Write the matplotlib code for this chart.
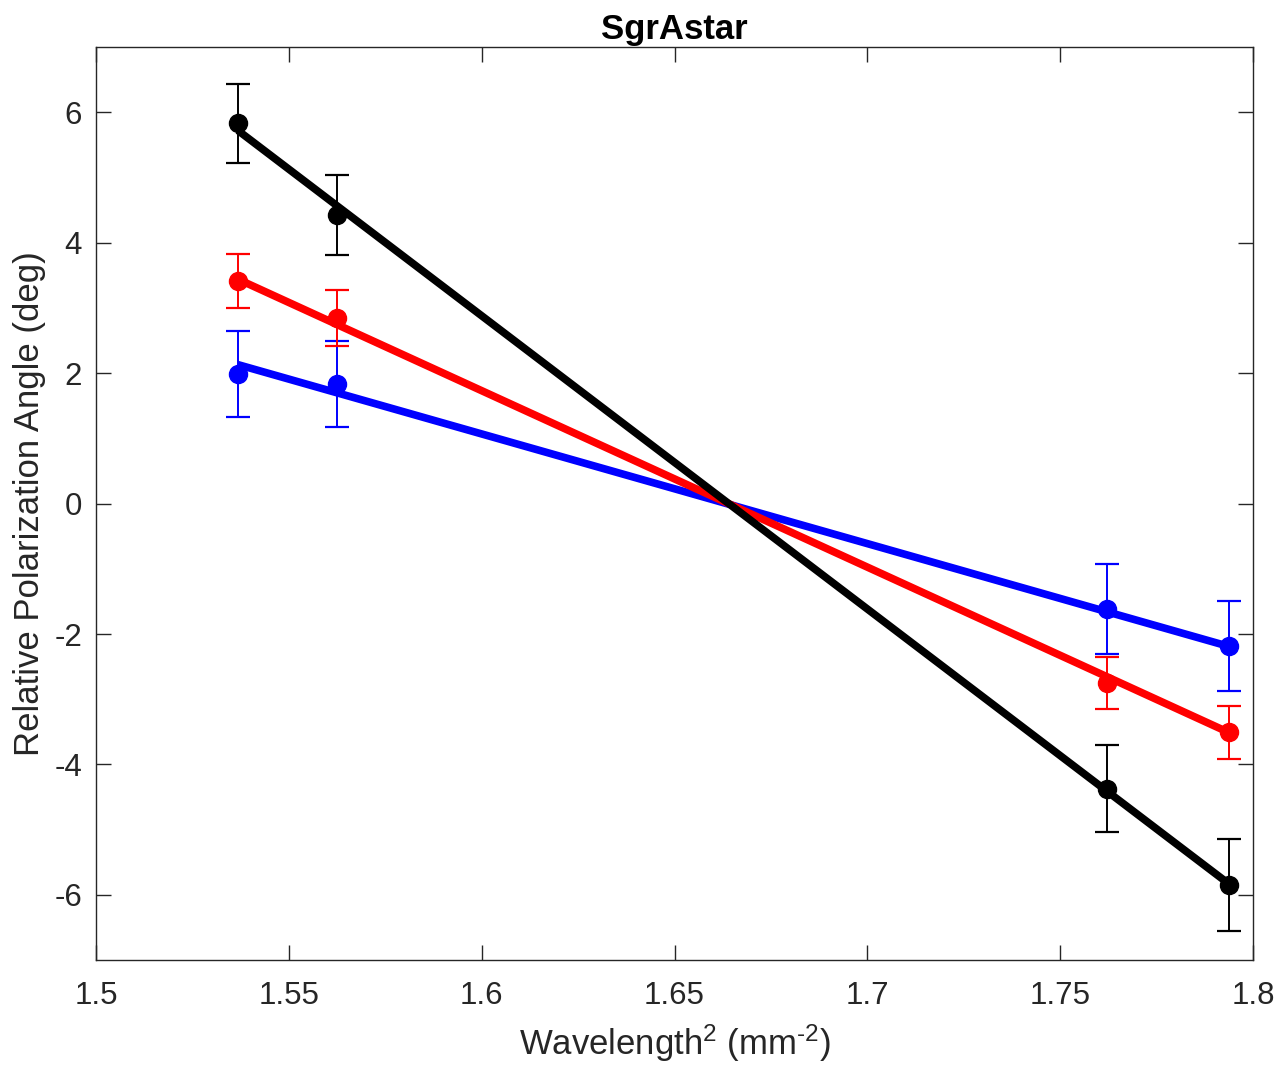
import matplotlib
matplotlib.use("Agg")
import matplotlib.pyplot as plt
import numpy as np

plt.rcParams['font.family'] = ['Liberation Sans', 'DejaVu Sans']
plt.rcParams['mathtext.default'] = 'regular'
plt.rcParams['axes.unicode_minus'] = False

# wavelength^2 of the four bands
wl2 = [1.5368, 1.5625, 1.7621, 1.7937]

# measured angles and 1-sigma errors
black_pa = [5.83, 4.42, -4.37, -5.85]
black_err = [0.61, 0.61, 0.67, 0.70]
red_pa = [3.41, 2.85, -2.75, -3.51]
red_err = [0.41, 0.43, 0.40, 0.40]
blue_pa = [1.98, 1.84, -1.61, -2.19]
blue_err = [0.66, 0.66, 0.69, 0.69]

# fitted lines (values at first and last wavelength)
fit_x = [1.5368, 1.7937]
black_fit = [5.72, -5.83]
red_fit = [3.44, -3.51]
blue_fit = [2.13, -2.19]

series = [
    (blue_pa, blue_err, blue_fit, 'blue'),
    (red_pa, red_err, red_fit, 'red'),
    (black_pa, black_err, black_fit, 'black'),
]

fig = plt.figure(figsize=(12.8, 10.68), dpi=100)
ax = fig.add_axes([0.075, 0.101, 0.904, 0.855])

for pa, err, fit, col in series:
    ax.errorbar(wl2, pa, yerr=err, fmt='o', color=col, ms=13,
                elinewidth=1.4, capsize=8.5, capthick=1.6, zorder=2)
for pa, err, fit, col in series:
    ax.plot(fit_x, fit, color=col, lw=5.5, solid_capstyle='butt', zorder=3)

ax.set_xlim(1.5, 1.8)
ax.set_ylim(-7, 7)
ax.set_xticks([1.5, 1.55, 1.6, 1.65, 1.7, 1.75, 1.8])
ax.set_xticklabels(['1.5', '1.55', '1.6', '1.65', '1.7', '1.75', '1.8'])
ax.set_yticks([-6, -4, -2, 0, 2, 4, 6])

edge = '#262626'
for s in ax.spines.values():
    s.set_color(edge)
    s.set_linewidth(1.0)
ax.tick_params(direction='in', length=11, width=1.0, color=edge,
               labelcolor=edge, labelsize=22.5, top=True, right=True, pad=10)
ax.tick_params(axis='x', pad=15)

ax.set_xlabel('Wavelength$^2$ (mm$^{\u20102}$)', fontsize=25, color=edge, labelpad=8)
ax.set_ylabel('Relative Polarization Angle (deg)', fontsize=25, color=edge, labelpad=6)
ax.set_title('SgrAstar', fontsize=25, fontweight='bold', pad=6)

fig.savefig('out.png', dpi=100)
